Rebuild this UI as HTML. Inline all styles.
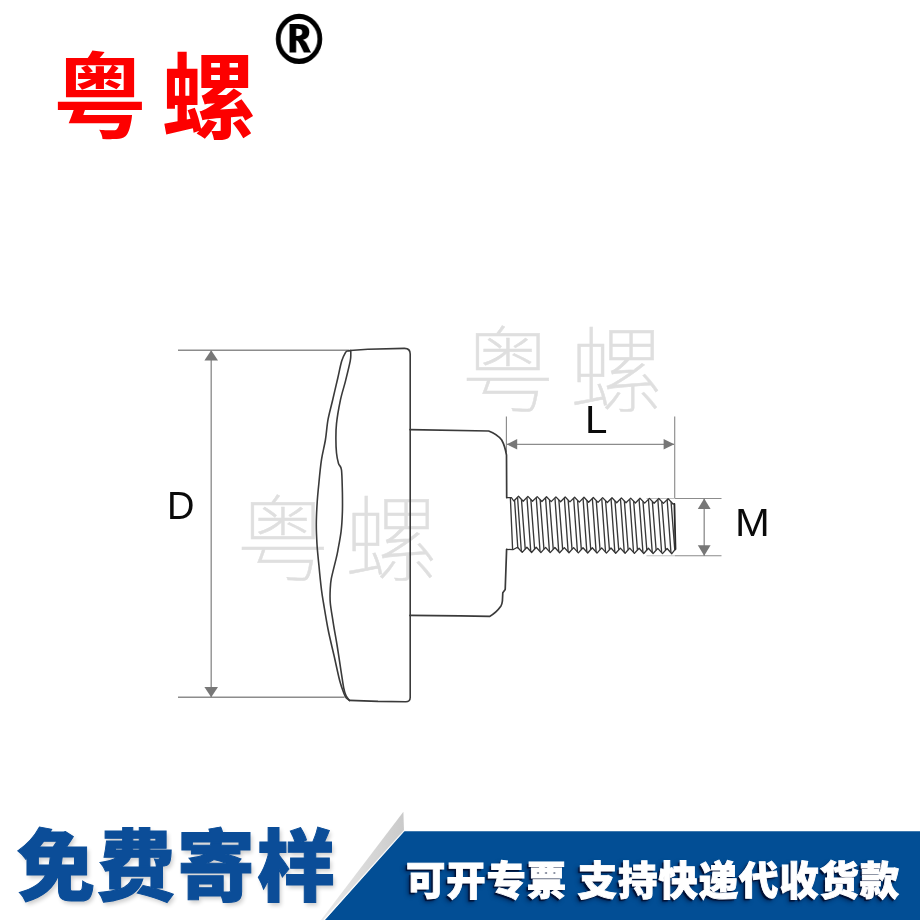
<!DOCTYPE html>
<html lang="zh-CN">
<head>
<meta charset="utf-8">
<title>粤螺</title>
<style>
html,body{margin:0;padding:0;background:#fff}
body{width:920px;height:920px;position:relative;overflow:hidden;font-family:"Liberation Sans","Noto Sans CJK SC",sans-serif}
.abs{position:absolute;line-height:1;white-space:nowrap;margin:0;will-change:transform}
.logo{left:52.8px;top:52.7px;font-size:94px;font-weight:700;color:#fd0000;letter-spacing:14.4px}
.reg{left:266.8px;top:5px;font-family:"DejaVu Sans","Liberation Sans",sans-serif;font-weight:700;font-size:70px;color:#000;transform:scaleX(.915);transform-origin:0 0}
.wm{font-size:94px;font-weight:100;color:#dfdfdf;-webkit-text-stroke:.5px #dfdfdf;letter-spacing:14.4px}
.wm1{left:460.8px;top:325.7px}
.wm2{left:235.6px;top:495px}
.draw{position:absolute;left:0;top:0}
.lab{font-family:"Liberation Sans",sans-serif;font-size:38px;color:#0a0a0a;transform-origin:0 0}
.banner{position:absolute;left:0;top:0}
.free{left:17.2px;top:829px;font-size:78px;letter-spacing:2px;font-weight:900;color:#0b4d98;-webkit-text-stroke:1px #0b4d98;text-shadow:2px 3px 4px rgba(0,0,0,.2)}
.tag{left:406px;top:861.8px;font-size:39.4px;letter-spacing:.9px;font-weight:900;color:#fff;word-spacing:-1.2px;-webkit-text-stroke:.9px #fff;text-shadow:-2px 2px 1px rgba(0,12,45,.9),-3px 3px 4px rgba(0,12,45,.55)}
</style>
</head>
<body>
<div class="abs wm wm1">粤螺</div>
<div class="abs wm wm2">粤螺</div>
<svg class="draw" width="920" height="920" viewBox="0 0 920 920">
<g fill="none" stroke="#8c8c8c" stroke-width="1.3">
<path stroke-width="1.6" d="M178 350.2H349M178 697.2H344.5"/>
<path stroke-width="1.35" d="M211.2 351V697"/>
<path stroke-width="1.15" d="M506.4 416.5V452M674.7 416.5V498M507 444.4H674"/>
<path stroke-width="1.1" d="M675 498.5H721.5M675 555.7H721.5"/>
<path stroke-width="1.1" stroke-opacity=".55" d="M646.5 498.5H675M646.5 555.7H675"/>
<path stroke-width="1.3" d="M704.2 499V556"/>
</g>
<g fill="#777" stroke="none">
<path d="M211.2 350.3L218 360.6H204.4Z"/>
<path d="M211.2 697.2L218 686.9H204.4Z"/>
<path d="M506.8 444.3L517.2 439V449.6Z"/>
<path d="M674.3 444.3L663.6 439V449.6Z"/>
<path d="M704.2 498.6L710.6 509H697.8Z"/>
<path d="M704.2 555.8L710.6 545.3H697.8Z"/>
</g>
<g fill="none" stroke="#3a3a3a" stroke-width="1.6" stroke-linejoin="round" stroke-linecap="round">
<path d="M350.2 350.5L367.8 349.2L404.5 348.4Q410.2 348.4 410.2 354L410.2 697.6Q410.2 701.8 405.6 701.7L378 701.4L349.5 700.4"/>
<path d="M351.0 350.5C350.5 350.6 348.9 350.6 348.0 350.9C347.1 351.2 346.7 350.7 345.6 352.4C344.6 354.1 343.0 356.8 341.7 361.1C340.4 365.4 339.3 371.5 337.8 378.0C336.3 384.5 334.2 393.2 332.6 400.2C331.0 407.1 329.2 413.1 328.0 419.7C326.8 426.3 326.5 433.4 325.4 440.0C324.3 446.6 322.6 452.4 321.5 459.6C320.4 466.8 319.6 475.4 318.9 483.0C318.1 490.6 317.4 498.2 317.0 505.2C316.6 512.2 316.3 518.3 316.3 524.8C316.3 531.3 316.6 537.6 317.0 544.3C317.4 551.0 318.1 557.4 318.9 565.0C319.6 572.6 320.7 583.7 321.5 590.0C322.3 596.3 322.4 596.5 323.5 603.0C324.6 609.5 326.3 620.3 328.0 629.0C329.7 637.7 331.9 646.3 333.9 655.0C335.9 663.7 338.1 674.5 339.8 681.0C341.5 687.5 343.2 691.4 344.3 694.3C345.4 697.2 345.7 697.3 346.6 698.3C347.5 699.3 349.0 700.0 349.5 700.4"/>
<path d="M350.6 351.0C350.6 351.4 350.9 351.8 350.8 353.5C350.7 355.2 351.1 356.6 350.2 361.1C349.3 365.6 347.2 374.1 345.6 380.6C344.0 387.1 341.9 393.0 340.4 400.2C338.9 407.4 337.2 417.2 336.5 423.7C335.8 430.2 335.9 434.4 335.9 439.3C335.9 444.2 336.1 449.0 336.5 453.0C336.9 457.0 337.7 460.7 338.5 463.5C339.3 466.3 340.9 465.2 341.5 470.0C342.1 474.8 342.2 485.2 342.4 492.2C342.5 499.1 342.6 505.2 342.4 511.7C342.2 518.2 341.9 524.8 341.1 531.3C340.3 537.8 338.7 545.8 337.8 550.8C336.9 555.8 336.6 556.5 335.5 561.1C334.4 565.8 332.2 573.9 331.3 578.7C330.4 583.5 330.4 586.0 330.2 590.0C330.0 594.0 329.8 597.6 330.3 603.0C330.8 608.4 332.1 615.4 333.2 622.6C334.3 629.8 335.9 638.0 337.2 646.0C338.5 654.0 339.9 663.8 341.0 670.8C342.1 677.8 342.9 683.7 343.7 687.8C344.5 691.9 345.0 693.4 346.0 695.5C347.0 697.6 348.9 699.6 349.5 700.4"/>
<path stroke-width="1.7" d="M410 429.7L488.7 431Q497 434 501.7 440Q505 446 506.5 455.2L506.7 497.6M506.6 549.4L505.2 589.5L502.8 592.8L502.4 601Q502 604.5 500.8 606.3Q496 613 489.6 616.4L460 615.9L410 615.4"/>
<path stroke-width="1.3" stroke="#333" d="M506.6 497.6L511.4 497.6L513.8 501.0L518.5 496.3L523.2 501.2L527.9 496.4L532.5 501.3L537.2 496.6L541.9 501.5L546.5 496.7L551.2 501.6L555.9 496.9L560.6 501.8L565.2 497.0L569.9 501.9L574.6 497.2L579.3 502.1L584.0 497.3L588.6 502.2L593.3 497.5L598.0 502.4L602.6 497.6L607.3 502.5L612.0 497.8L616.7 502.7L621.4 497.9L626.0 502.8L630.7 498.1L635.4 503.0L640.0 498.2L644.7 503.1L649.4 498.4L654.1 503.3L658.8 498.5L663.4 503.4L668.1 498.7L672.8 503.6L672.6 503.8L674.4 504.0"/>
<path stroke-width="1.3" stroke="#333" d="M506.6 549.4L512.9 549.7L517.5 547.2L522.2 552.4L526.9 547.2L531.6 552.5L536.2 547.3L540.9 552.6L545.6 547.4L550.2 552.6L554.9 547.5L559.6 552.7L564.3 547.6L569.0 552.8L573.6 547.6L578.3 552.9L583.0 547.7L587.7 553.0L592.3 547.8L597.0 553.1L601.7 547.9L606.4 553.1L611.0 548.0L615.7 553.2L620.4 548.1L625.1 553.3L629.7 548.1L634.4 553.4L639.1 548.2L643.8 553.5L648.4 548.3L653.1 553.5L657.8 548.4L662.5 553.6L667.1 548.5L671.8 553.7L675.4 549.1"/>
<path stroke-width="1.35" stroke="#383838" d="M510.4 498.2 L512.6 549.3M514.6 500.8 L517.8 547.7M517.6 497.9 L521.3 550.8M521.5 499.9 L525.2 548.6M527.0 498.0 L530.7 550.9M530.9 500.0 L534.6 548.7M536.3 498.2 L540.0 551.0M540.2 500.2 L543.9 548.8M545.6 498.3 L549.4 551.0M549.5 500.3 L553.2 548.8M555.0 498.5 L558.7 551.1M558.9 500.5 L562.6 548.9M564.4 498.6 L568.1 551.2M568.2 500.6 L572.0 549.0M573.7 498.8 L577.4 551.3M577.6 500.8 L581.3 549.1M583.1 498.9 L586.8 551.4M587.0 500.9 L590.7 549.2M592.4 499.1 L596.1 551.5M596.3 501.1 L600.0 549.3M601.8 499.2 L605.5 551.5M605.6 501.2 L609.4 549.3M611.1 499.4 L614.8 551.6M615.0 501.4 L618.7 549.4M620.5 499.5 L624.2 551.7M624.4 501.5 L628.1 549.5M629.8 499.7 L633.5 551.8M633.7 501.7 L637.4 549.6M639.1 499.8 L642.9 551.9M643.0 501.8 L646.8 549.7M648.5 500.0 L652.2 551.9M652.4 502.0 L656.1 549.7M657.9 500.1 L661.6 552.0M661.8 502.1 L665.5 549.8M667.2 500.3 L670.9 552.1M671.1 502.3 L674.8 549.9"/>
<path stroke-width="1.8" stroke="#2a2a2a" d="M674.4 504.0 L675.5 549.1"/>
</g>
</svg>
<div class="abs lab" style="left:166.8px;top:486.6px">D</div>
<div class="abs lab" style="left:584.6px;top:401.2px;transform:scaleX(1.06)">L</div>
<div class="abs lab" style="left:734.8px;top:504.2px;transform:scaleX(1.1)">M</div>
<div class="abs logo">粤螺</div>
<div class="abs reg">®</div>
<svg class="banner" width="920" height="920" viewBox="0 0 920 920">
<defs><linearGradient id="gs" x1="0" y1="0" x2="1" y2="0"><stop offset="0" stop-color="#eaeaea"/><stop offset="1" stop-color="#cacaca"/></linearGradient></defs>
<path d="M403.4 811.8L404 831L324 920H321Z" fill="url(#gs)"/>
<path d="M404 831.3H920V920H324.8Z" fill="#024e95"/>
<path d="M404.2 830.6L324 920" fill="none" stroke="#fff" stroke-width="1.2" stroke-opacity=".85"/>
</svg>
<div class="abs free">免费寄样</div>
<div class="abs tag">可开专票 支持快递代收货款</div>
</body>
</html>
